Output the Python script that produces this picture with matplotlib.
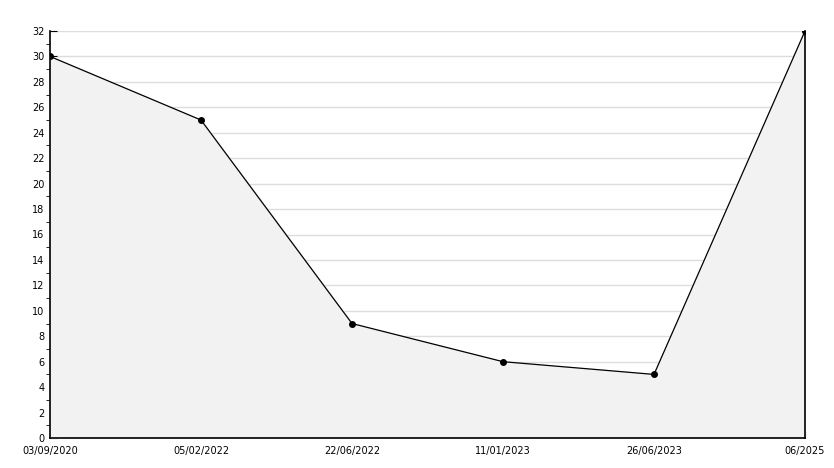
import matplotlib
matplotlib.use('Agg')
import matplotlib.pyplot as plt
from matplotlib.ticker import MultipleLocator

# data
dates = ['03/09/2020', '05/02/2022', '22/06/2022', '11/01/2023', '26/06/2023', '06/2025']
values = [30, 25, 9, 6, 5, 32]

fig = plt.figure(figsize=(8.34, 4.68), dpi=100)
ax = fig.add_axes([50 / 834, 30 / 468, 755 / 834, 407 / 468])

x = list(range(len(dates)))
ax.fill_between(x, values, 0, color='#f2f2f2', zorder=1)
ax.plot(x, values, color='black', linewidth=0.9, marker='o', markersize=4, zorder=3)

ax.set_xlim(0, len(dates) - 1)
ax.set_ylim(0, 32)
ax.set_xticks(x)
ax.set_xticklabels(dates)
ax.yaxis.set_major_locator(MultipleLocator(2))
ax.yaxis.set_minor_locator(MultipleLocator(1))
ax.grid(axis='y', color='#dddddd', linewidth=1, zorder=0)
ax.set_axisbelow(True)

ax.tick_params(axis='both', direction='in', labelsize=7, colors='black')
ax.tick_params(axis='y', which='major', length=5, pad=4)
ax.tick_params(axis='y', which='minor', length=3)
ax.tick_params(axis='x', length=5, pad=6)

ax.spines['top'].set_visible(False)
for s in ['left', 'bottom', 'right']:
    ax.spines[s].set_linewidth(1.2)

fig.savefig('out.png', dpi=100)
